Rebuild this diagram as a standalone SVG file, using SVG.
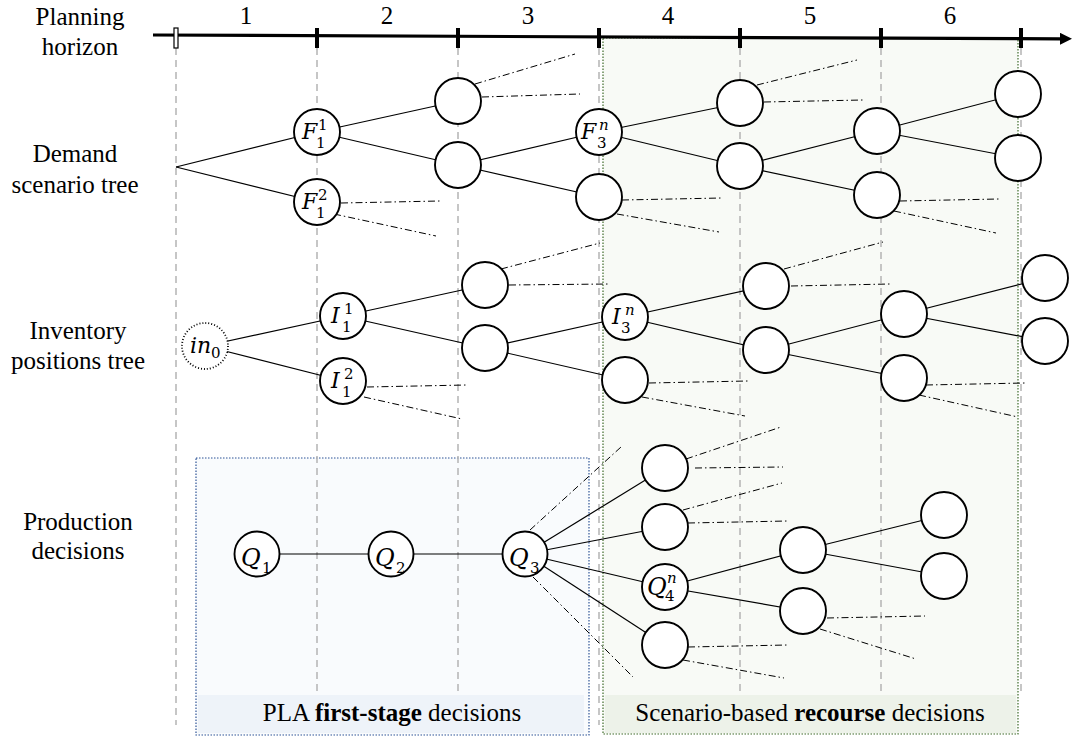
<svg xmlns="http://www.w3.org/2000/svg" width="1073" height="738" viewBox="0 0 1073 738">
<defs>
<style>
text{font-family:'Liberation Serif','Times New Roman',Tinos,serif}
.lbl{font-size:25px;fill:#000;text-anchor:middle}
.m{font-family:'DejaVu Serif','Liberation Serif',serif;font-style:italic;font-size:22px;fill:#000}
.q{font-family:'DejaVu Serif','Liberation Serif',serif;font-style:italic;font-size:24px;fill:#000}
.s{font-family:'DejaVu Serif','Liberation Serif',serif;font-size:15px;fill:#000}
.si{font-family:'DejaVu Serif','Liberation Serif',serif;font-style:italic;font-size:15px;fill:#000}
.n{fill:#fff;stroke:#000;stroke-width:1.9}
.e{stroke:#000;stroke-width:1.2;fill:none}
.dd{stroke:#000;stroke-width:1;stroke-dasharray:7 3 1.5 3;fill:none}
.grid{stroke:#b4b4b4;stroke-width:1.5;stroke-dasharray:7 5;fill:none}
.tick{fill:#000}
</style>
<marker id="arr" viewBox="0 0 12 12" refX="0" refY="6" markerWidth="12" markerHeight="12" markerUnits="userSpaceOnUse" orient="auto">
<path d="M0,0 L12,6 L0,12 z" fill="#000"/>
</marker>
</defs>

<g id="boxes">
<rect id="recourse-box" x="603" y="38" width="415" height="696" fill="#f8faf6" stroke="#3e6b2a" stroke-width="1.2" stroke-dasharray="1.5 1.5"/>
<rect id="first-stage-box" x="196" y="458" width="393" height="277" fill="#f9fbfd" stroke="#2f5597" stroke-width="1.2" stroke-dasharray="1.5 1.5"/>
</g>

<g id="gridlines">
<line class="grid" x1="176" y1="48" x2="176" y2="725"/>
<line class="grid" x1="317" y1="48" x2="317" y2="694"/>
<line class="grid" x1="458" y1="48" x2="458" y2="694"/>
<line class="grid" x1="599" y1="48" x2="599" y2="725"/>
<line class="grid" x1="740" y1="48" x2="740" y2="694"/>
<line class="grid" x1="881" y1="48" x2="881" y2="694"/>
<line class="grid" x1="1021" y1="48" x2="1021" y2="694"/>
</g>

<g id="box-labels">
<rect x="198" y="695" width="386" height="38" fill="#eef3f9"/>
<text class="lbl" x="392" y="721">PLA <tspan font-weight="bold">first-stage</tspan> decisions</text>
<rect x="605" y="695" width="411" height="38" fill="#edf2e9"/>
<text class="lbl" x="810" y="721">Scenario-based <tspan font-weight="bold">recourse</tspan> decisions</text>
</g>

<g id="axis">
<line x1="153" y1="35" x2="1060" y2="38.8" stroke="#000" stroke-width="3.2" marker-end="url(#arr)"/>
<rect x="174" y="28" width="4" height="20" fill="#fff" stroke="#000" stroke-width="1.2"/>
<rect class="tick" x="315" y="28" width="4" height="20"/>
<rect class="tick" x="456" y="28" width="4" height="20"/>
<rect class="tick" x="597" y="28" width="4" height="20"/>
<rect class="tick" x="738" y="28" width="4" height="20"/>
<rect class="tick" x="879" y="28" width="4" height="20"/>
<rect class="tick" x="1019" y="28" width="4" height="20"/>
<text class="lbl" x="246" y="24">1</text>
<text class="lbl" x="387" y="24">2</text>
<text class="lbl" x="528" y="24">3</text>
<text class="lbl" x="668" y="24">4</text>
<text class="lbl" x="810" y="24">5</text>
<text class="lbl" x="950" y="24">6</text>
</g>

<g id="row-labels">
<text class="lbl" x="80" y="25">Planning</text>
<text class="lbl" x="80" y="55">horizon</text>
<text class="lbl" x="75" y="162">Demand</text>
<text class="lbl" x="75" y="193">scenario tree</text>
<text class="lbl" x="78" y="339">Inventory</text>
<text class="lbl" x="78" y="369">positions tree</text>
<text class="lbl" x="78" y="530">Production</text>
<text class="lbl" x="78" y="559">decisions</text>
</g>

<g id="connectors">
<line class="e" x1="176" y1="167" x2="317" y2="132"/>
<line class="e" x1="176" y1="167" x2="317" y2="202"/>
<line class="e" x1="317" y1="132" x2="458" y2="101"/>
<line class="e" x1="317" y1="132" x2="458" y2="165"/>
<line class="e" x1="458" y1="165" x2="599" y2="132"/>
<line class="e" x1="458" y1="165" x2="599" y2="197"/>
<line class="e" x1="599" y1="132" x2="740" y2="103"/>
<line class="e" x1="599" y1="132" x2="740" y2="166"/>
<line class="e" x1="740" y1="166" x2="877" y2="131"/>
<line class="e" x1="740" y1="166" x2="877" y2="195"/>
<line class="e" x1="877" y1="131" x2="1018" y2="94"/>
<line class="e" x1="877" y1="131" x2="1018" y2="158"/>
<line class="dd" x1="475" y1="84" x2="575" y2="54"/>
<line class="dd" x1="482" y1="97" x2="580" y2="94"/>
<line class="dd" x1="341" y1="203" x2="440" y2="201"/>
<line class="dd" x1="334" y1="214" x2="436" y2="236"/>
<line class="dd" x1="622" y1="200" x2="722" y2="198"/>
<line class="dd" x1="617" y1="214" x2="719" y2="232"/>
<line class="dd" x1="757" y1="85" x2="857" y2="60"/>
<line class="dd" x1="764" y1="102" x2="863" y2="100"/>
<line class="dd" x1="900" y1="201" x2="999" y2="199"/>
<line class="dd" x1="894" y1="211" x2="996" y2="233"/>
<line class="e" x1="205" y1="346" x2="343" y2="316"/>
<line class="e" x1="205" y1="346" x2="343" y2="381"/>
<line class="e" x1="343" y1="316" x2="485" y2="285"/>
<line class="e" x1="343" y1="316" x2="485" y2="348"/>
<line class="e" x1="485" y1="348" x2="625" y2="317"/>
<line class="e" x1="485" y1="348" x2="625" y2="380"/>
<line class="e" x1="625" y1="317" x2="766" y2="286"/>
<line class="e" x1="625" y1="317" x2="766" y2="350"/>
<line class="e" x1="766" y1="350" x2="904" y2="314"/>
<line class="e" x1="766" y1="350" x2="904" y2="378"/>
<line class="e" x1="904" y1="314" x2="1045" y2="278"/>
<line class="e" x1="904" y1="314" x2="1045" y2="341"/>
<line class="dd" x1="501" y1="269" x2="600" y2="243"/>
<line class="dd" x1="509" y1="285" x2="610" y2="284"/>
<line class="dd" x1="367" y1="387" x2="467" y2="385"/>
<line class="dd" x1="364" y1="397" x2="462" y2="419"/>
<line class="dd" x1="649" y1="383" x2="748" y2="381"/>
<line class="dd" x1="642" y1="397" x2="745" y2="416"/>
<line class="dd" x1="784" y1="269" x2="883" y2="242"/>
<line class="dd" x1="791" y1="286" x2="890" y2="284"/>
<line class="dd" x1="926" y1="385" x2="1025" y2="383"/>
<line class="dd" x1="919" y1="395" x2="1018" y2="417"/>
<line class="e" x1="257" y1="554" x2="391" y2="554"/>
<line class="e" x1="391" y1="554" x2="525" y2="554"/>
<line class="e" x1="525" y1="554" x2="665" y2="468"/>
<line class="e" x1="525" y1="554" x2="665" y2="527"/>
<line class="e" x1="525" y1="554" x2="665" y2="587"/>
<line class="e" x1="525" y1="554" x2="665" y2="645"/>
<line class="e" x1="665" y1="587" x2="803" y2="550"/>
<line class="e" x1="665" y1="587" x2="803" y2="611"/>
<line class="e" x1="803" y1="550" x2="944" y2="515"/>
<line class="e" x1="803" y1="550" x2="944" y2="576"/>
<line class="dd" x1="530" y1="530" x2="621" y2="447"/>
<line class="dd" x1="533" y1="577" x2="633" y2="677"/>
<line class="dd" x1="686" y1="459" x2="781" y2="427"/>
<line class="dd" x1="695" y1="468" x2="783" y2="467"/>
<line class="dd" x1="683" y1="510" x2="782" y2="483"/>
<line class="dd" x1="688" y1="523" x2="788" y2="521"/>
<line class="dd" x1="688" y1="647" x2="788" y2="645"/>
<line class="dd" x1="683" y1="660" x2="784" y2="678"/>
<line class="dd" x1="827" y1="618" x2="925" y2="616"/>
<line class="dd" x1="820" y1="629" x2="916" y2="659"/>
</g>

<g id="F11"><circle class="n" cx="317" cy="132" r="23"/><text class="m" x="302" y="139">F</text><text class="s" x="318" y="130">1</text><text class="s" x="316" y="148">1</text></g>
<g id="F12"><circle class="n" cx="317" cy="202" r="23"/><text class="m" x="302" y="209">F</text><text class="s" x="318" y="200">2</text><text class="s" x="316" y="218">1</text></g>
<g id="d3a"><circle class="n" cx="458" cy="101" r="23"/></g>
<g id="d3b"><circle class="n" cx="458" cy="165" r="23"/></g>
<g id="F3n"><circle class="n" cx="599" cy="132" r="23"/><text class="m" x="581" y="139">F</text><text class="si" x="599" y="130">n</text><text class="s" x="597" y="148">3</text></g>
<g id="d4b"><circle class="n" cx="599" cy="197" r="23"/></g>
<g id="d5a"><circle class="n" cx="740" cy="103" r="23"/></g>
<g id="d5b"><circle class="n" cx="740" cy="166" r="23"/></g>
<g id="d6a"><circle class="n" cx="877" cy="131" r="23"/></g>
<g id="d6b"><circle class="n" cx="877" cy="195" r="23"/></g>
<g id="d7a"><circle class="n" cx="1018" cy="94" r="23"/></g>
<g id="d7b"><circle class="n" cx="1018" cy="158" r="23"/></g>

<g id="in0"><circle cx="205" cy="346" r="23" fill="#fff" stroke="#000" stroke-width="1.8" stroke-dasharray="1 2"/><text class="m" x="190" y="353">in</text><text class="s" x="211" y="358">0</text></g>
<g id="I11"><circle class="n" cx="343" cy="316" r="23"/><text class="m" x="331" y="323">I</text><text class="s" x="344" y="314">1</text><text class="s" x="342" y="332">1</text></g>
<g id="I12"><circle class="n" cx="343" cy="381" r="23"/><text class="m" x="331" y="388">I</text><text class="s" x="344" y="379">2</text><text class="s" x="342" y="397">1</text></g>
<g id="v3a"><circle class="n" cx="485" cy="285" r="23"/></g>
<g id="v3b"><circle class="n" cx="485" cy="348" r="23"/></g>
<g id="I3n"><circle class="n" cx="625" cy="317" r="23"/><text class="m" x="612" y="324">I</text><text class="si" x="625" y="315">n</text><text class="s" x="621" y="333">3</text></g>
<g id="v4b"><circle class="n" cx="625" cy="380" r="23"/></g>
<g id="v5a"><circle class="n" cx="766" cy="286" r="23"/></g>
<g id="v5b"><circle class="n" cx="766" cy="350" r="23"/></g>
<g id="v6a"><circle class="n" cx="904" cy="314" r="23"/></g>
<g id="v6b"><circle class="n" cx="904" cy="378" r="23"/></g>
<g id="v7a"><circle class="n" cx="1045" cy="278" r="23"/></g>
<g id="v7b"><circle class="n" cx="1045" cy="341" r="23"/></g>

<g id="Q1"><circle class="n" cx="257" cy="554" r="22.5"/><text class="q" x="241" y="566">Q</text><text class="s" x="262" y="573">1</text></g>
<g id="Q2"><circle class="n" cx="391" cy="554" r="22.5"/><text class="q" x="375" y="566">Q</text><text class="s" x="396" y="573">2</text></g>
<g id="Q3"><circle class="n" cx="525" cy="554" r="22.5"/><text class="q" x="509" y="566">Q</text><text class="s" x="530" y="573">3</text></g>
<g id="p4a"><circle class="n" cx="665" cy="468" r="23"/></g>
<g id="p4b"><circle class="n" cx="665" cy="527" r="23"/></g>
<g id="Q4n"><circle class="n" cx="665" cy="587" r="23"/><text class="q" x="647" y="595">Q</text><text class="si" x="667" y="583">n</text><text class="s" x="665" y="601">4</text></g>
<g id="p4d"><circle class="n" cx="665" cy="645" r="23"/></g>
<g id="p5a"><circle class="n" cx="803" cy="550" r="23"/></g>
<g id="p5b"><circle class="n" cx="803" cy="611" r="23"/></g>
<g id="p6a"><circle class="n" cx="944" cy="515" r="23"/></g>
<g id="p6b"><circle class="n" cx="944" cy="576" r="23"/></g>
</svg>
